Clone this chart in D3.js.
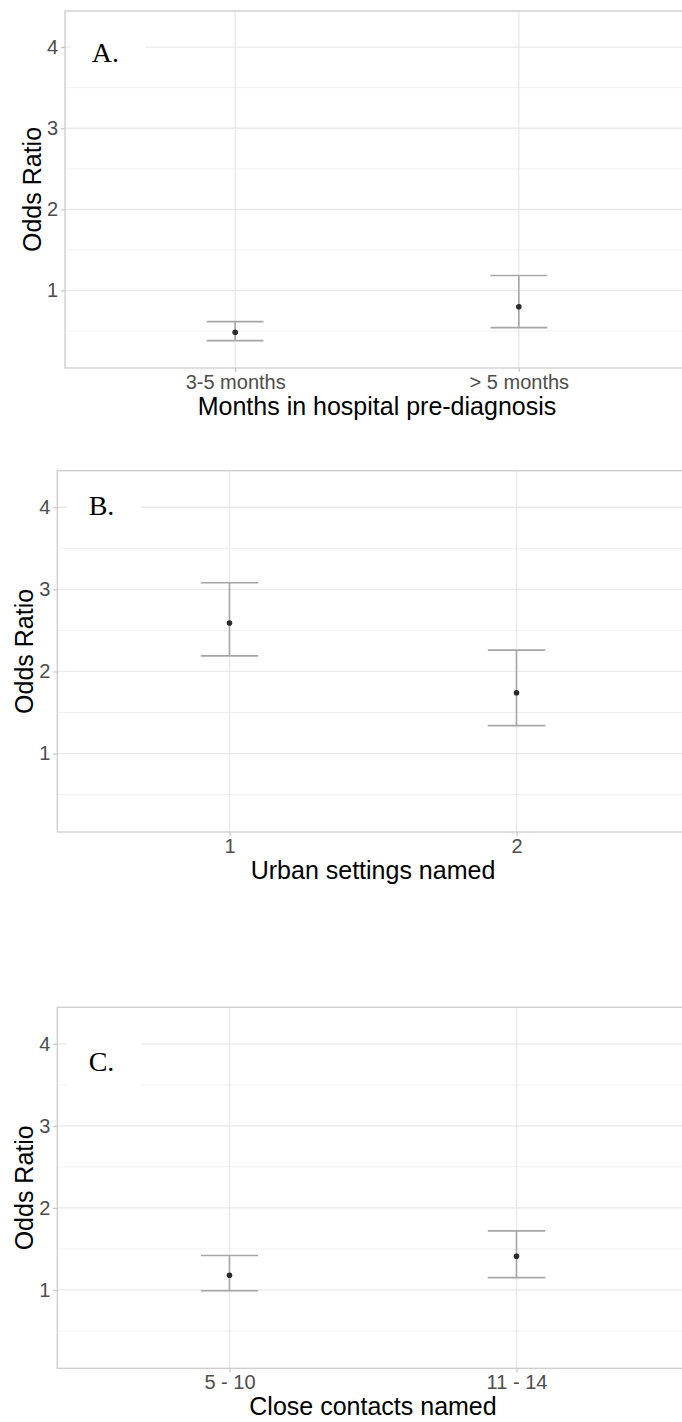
<!DOCTYPE html>
<html>
<head>
<meta charset="utf-8">
<script src="https://cdn.jsdelivr.net/npm/d3@7"></script>
<style>
  html, body { margin: 0; padding: 0; background: #fff; }
  svg { display: block; }
  text { font-family: "Liberation Sans", Arial, Helvetica, sans-serif; }
</style>
</head>
<body>
<div id="chart"></div>
<script>
// ---- data ----
const panelLetters = ["A.", "B.", "C."];
const xTitles = ["Months in hospital pre-diagnosis", "Urban settings named", "Close contacts named"];
const yTitle = "Odds Ratio";

const categoriesA = ["3-5 months", "> 5 months"];
const oddsA = [0.485, 0.80];
const lowerA = [0.383, 0.543];
const upperA = [0.617, 1.185];

const categoriesB = ["1", "2"];
const oddsB = [2.59, 1.74];
const lowerB = [2.19, 1.34];
const upperB = [3.08, 2.26];

const categoriesC = ["5 - 10", "11 - 14"];
const oddsC = [1.18, 1.41];
const lowerC = [0.99, 1.15];
const upperC = [1.42, 1.72];

const yTicks = [1, 2, 3, 4];
const yMinorTicks = [0.5, 1.5, 2.5, 3.5];
const yDomain = [0.045, 4.445];
const letterY = [3.82, 3.91, 3.67];
const letterX = [0.142, 0.154, 0.154];

// ---- layout ----
const W = 682, H = 1422;
const panels = [
  { left: 65,   top: 11,     bottom: 368,    right: 689,   cats: categoriesA, or: oddsA, lo: lowerA, hi: upperA },
  { left: 57.3, top: 470.7,  bottom: 832,    right: 688.7, cats: categoriesB, or: oddsB, lo: lowerB, hi: upperB },
  { left: 57.3, top: 1007.3, bottom: 1368.3, right: 688.7, cats: categoriesC, or: oddsC, lo: lowerC, hi: upperC }
];

const svg = d3.select("#chart").append("svg")
  .attr("width", W).attr("height", H).attr("viewBox", `0 0 ${W} ${H}`);

panels.forEach((p, i) => {
  const g = svg.append("g");
  const x = d3.scalePoint().domain(p.cats).range([p.left, p.right]).padding(0.6);
  const y = d3.scaleLinear().domain(yDomain).range([p.bottom, p.top]);
  const step = x.step();

  // minor grid
  g.selectAll(".minor").data(yMinorTicks).join("line")
    .attr("x1", p.left).attr("x2", p.right)
    .attr("y1", d => y(d)).attr("y2", d => y(d))
    .attr("stroke", "#f1f1f1").attr("stroke-width", 1);
  // major grid
  g.selectAll(".major").data(yTicks).join("line")
    .attr("x1", p.left).attr("x2", p.right)
    .attr("y1", d => y(d)).attr("y2", d => y(d))
    .attr("stroke", "#e9e9e9").attr("stroke-width", 1.3);
  g.selectAll(".vmajor").data(p.cats).join("line")
    .attr("x1", d => x(d)).attr("x2", d => x(d))
    .attr("y1", p.top).attr("y2", p.bottom)
    .attr("stroke", "#e9e9e9").attr("stroke-width", 1.3);

  // letter label with white box
  const lx = p.left + letterX[i] * step;
  const ly = y(letterY[i]);
  g.append("rect")
    .attr("x", lx + 2.5 - 37).attr("y", ly - 31)
    .attr("width", 74).attr("height", 51)
    .attr("fill", "#fff");

  // axes
  const yAxis = d3.axisLeft(y).tickValues(yTicks).tickSize(4).tickPadding(3).tickFormat(d3.format("d"));
  const ya = g.append("g").attr("transform", `translate(${p.left},0)`).call(yAxis);
  ya.select(".domain").remove();
  ya.selectAll(".tick line").attr("stroke", "#c4c4c4").attr("stroke-width", 1.2);
  ya.selectAll(".tick text").attr("fill", "#4d4d4d").style("font-size", "20px")
    .style("font-family", "'Liberation Sans', Arial, sans-serif");

  const xAxis = d3.axisBottom(x).tickSize(4).tickPadding(3);
  const xa = g.append("g").attr("transform", `translate(0,${p.bottom})`).call(xAxis);
  xa.select(".domain").remove();
  xa.selectAll(".tick line").attr("stroke", "#c4c4c4").attr("stroke-width", 1.2);
  xa.selectAll(".tick text").attr("fill", "#4d4d4d").style("font-size", "20px")
    .style("font-family", "'Liberation Sans', Arial, sans-serif");

  // border
  g.append("rect")
    .attr("x", p.left).attr("y", p.top)
    .attr("width", p.right - p.left).attr("height", p.bottom - p.top)
    .attr("fill", "none").attr("stroke", "#cccccc").attr("stroke-width", 1.3);

  // error bars
  const idx = d3.range(p.cats.length);
  const cap = 0.1 * step;
  const eb = g.append("g").attr("stroke", "#a6a6a6").attr("stroke-width", 1.6).attr("fill", "none");
  eb.selectAll(".v").data(idx).join("line")
    .attr("x1", j => x(p.cats[j])).attr("x2", j => x(p.cats[j]))
    .attr("y1", j => y(p.lo[j])).attr("y2", j => y(p.hi[j]));
  eb.selectAll(".top").data(idx).join("line")
    .attr("x1", j => x(p.cats[j]) - cap).attr("x2", j => x(p.cats[j]) + cap)
    .attr("y1", j => y(p.hi[j])).attr("y2", j => y(p.hi[j]));
  eb.selectAll(".bot").data(idx).join("line")
    .attr("x1", j => x(p.cats[j]) - cap).attr("x2", j => x(p.cats[j]) + cap)
    .attr("y1", j => y(p.lo[j])).attr("y2", j => y(p.lo[j]));

  // points
  g.selectAll(".pt").data(idx).join("circle")
    .attr("cx", j => x(p.cats[j])).attr("cy", j => y(p.or[j]))
    .attr("r", 2.8).attr("fill", "#2b2b2b");

  // letter
  g.append("text")
    .attr("x", lx).attr("y", ly)
    .attr("text-anchor", "middle")
    .style("font-family", "'Liberation Serif', 'Times New Roman', serif")
    .style("font-size", "28px").attr("fill", "#000")
    .text(panelLetters[i]);

  // axis titles
  g.append("text")
    .attr("x", (p.left + p.right) / 2).attr("y", p.bottom + 46.5)
    .attr("text-anchor", "middle").style("font-size", "25px").attr("fill", "#000")
    .text(xTitles[i]);
  g.append("text")
    .attr("transform", `translate(${p.left - 24.5},${(p.top + p.bottom) / 2}) rotate(-90)`)
    .attr("text-anchor", "middle").style("font-size", "25px").attr("fill", "#000")
    .text(yTitle);
});
</script>
</body>
</html>
